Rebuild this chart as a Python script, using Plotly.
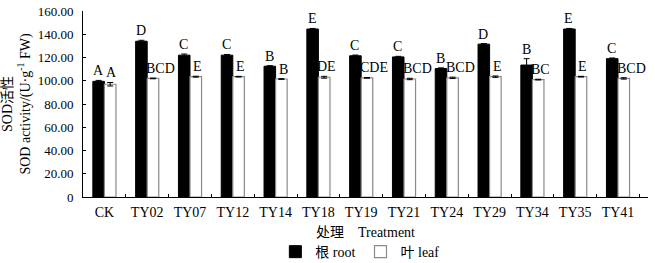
import plotly.graph_objects as go

categories = ["CK", "TY02", "TY07", "TY12", "TY14", "TY18", "TY19",
              "TY21", "TY24", "TY29", "TY34", "TY35", "TY41"]
root_values = [99.5, 134.0, 122.0, 122.0, 112.5, 144.5, 121.5,
               120.5, 110.5, 131.5, 113.5, 144.5, 119.0]
root_errors = [0.8, 0.8, 1.0, 0.6, 0.5, 0.5, 0.6, 0.5, 0.6, 0.5, 5.5, 0.5, 0.6]
leaf_values = [97.0, 102.0, 103.5, 103.5, 101.5, 103.0, 102.5,
               101.5, 102.5, 103.5, 101.0, 103.5, 102.0]
leaf_errors = [1.5, 0.3, 0.4, 0.3, 0.3, 0.8, 0.3, 0.6, 0.6, 0.6, 0.3, 0.3, 0.6]
root_letters = ["A", "D", "C", "C", "B", "E", "C", "C", "B", "D", "B", "E", "C"]
leaf_letters = ["A", "BCD", "E", "E", "B", "DE", "CDE", "BCD", "BCD", "E", "BC", "E", "BCD"]
y_tick_values = [0, 20, 40, 60, 80, 100, 120, 140, 160]
y_tick_labels = ["0", "20.00", "40.00", "60.00", "80.00", "100.00", "120.00", "140.00", "160.00"]

SERIF = "Liberation Serif, Times New Roman, Noto Sans CJK SC, serif"

fig = go.Figure()
fig.add_trace(go.Bar(
    x=categories, y=root_values, name="根 root",
    marker=dict(color="black", line=dict(color="black", width=1)),
    error_y=dict(type="data", array=root_errors, color="black", thickness=1, width=3),
))
fig.add_trace(go.Bar(
    x=categories, y=leaf_values, name="叶 leaf",
    marker=dict(color="white", line=dict(color="#8a8a8a", width=1.2)),
    error_y=dict(type="data", array=leaf_errors, color="black", thickness=1, width=3),
))

BAR_PX = 6.4
annotations = []
for c, v, e, t in zip(categories, root_values, root_errors, root_letters):
    annotations.append(dict(x=c, y=v + e, text=t, showarrow=False, xref="x", yref="y",
                            xanchor="center", yanchor="bottom", xshift=-BAR_PX, yshift=0,
                            font=dict(family=SERIF, size=14, color="black")))
for c, v, e, t in zip(categories, leaf_values, leaf_errors, leaf_letters):
    if len(t) == 1:
        annotations.append(dict(x=c, y=v + e, text=t, showarrow=False, xref="x", yref="y",
                                xanchor="center", yanchor="bottom", xshift=BAR_PX + 1, yshift=0,
                                font=dict(family=SERIF, size=14, color="black")))
    else:
        annotations.append(dict(x=c, y=v + e, text=t, showarrow=False, xref="x", yref="y",
                                xanchor="left", yanchor="bottom", xshift=-3, yshift=0,
                                font=dict(family=SERIF, size=14, color="black")))

fig.update_layout(
    width=655, height=263,
    margin=dict(l=83, r=7, t=11, b=66, autoexpand=False),
    paper_bgcolor="white", plot_bgcolor="white",
    barmode="group", bargap=0.46, bargroupgap=0,
    font=dict(family=SERIF, size=13, color="black"),
    showlegend=True,
    legend=dict(orientation="h", x=0.49, xanchor="center", y=-0.296, yanchor="middle",
                font=dict(family=SERIF, size=14, color="black"),
                itemwidth=30, tracegroupgap=0, bgcolor="rgba(0,0,0,0)"),
    annotations=annotations,
)
fig.update_xaxes(
    showline=True, linecolor="black", linewidth=1,
    ticks="inside", tickson="boundaries", ticklen=3, tickcolor="black",
    tickfont=dict(family=SERIF, size=14, color="black"),
    ticklabelstandoff=2, ticklabeloverflow="allow",
    title=dict(text="处理\u3000Treatment", font=dict(family=SERIF, size=14, color="black"), standoff=8),
    automargin=False, showgrid=False,
)
fig.update_yaxes(
    range=[0, 160], tickvals=y_tick_values, ticktext=y_tick_labels,
    showline=True, linecolor="black", linewidth=1,
    ticks="inside", ticklen=3, tickcolor="black",
    tickfont=dict(family=SERIF, size=13, color="black"),
    ticklabelstandoff=6, ticklabeloverflow="allow",
    title=dict(text="SOD活性<br>SOD activity/(U·g<sup>-1</sup> FW)",
               font=dict(family=SERIF, size=14, color="black"), standoff=3),
    automargin=False, showgrid=False, zeroline=False,
)
# remove the browser's default 8px body margin so the figure sits at the page origin
fig.write_html("out.html", config={"displayModeBar": False},
               post_script="document.body.style.margin='0';")
